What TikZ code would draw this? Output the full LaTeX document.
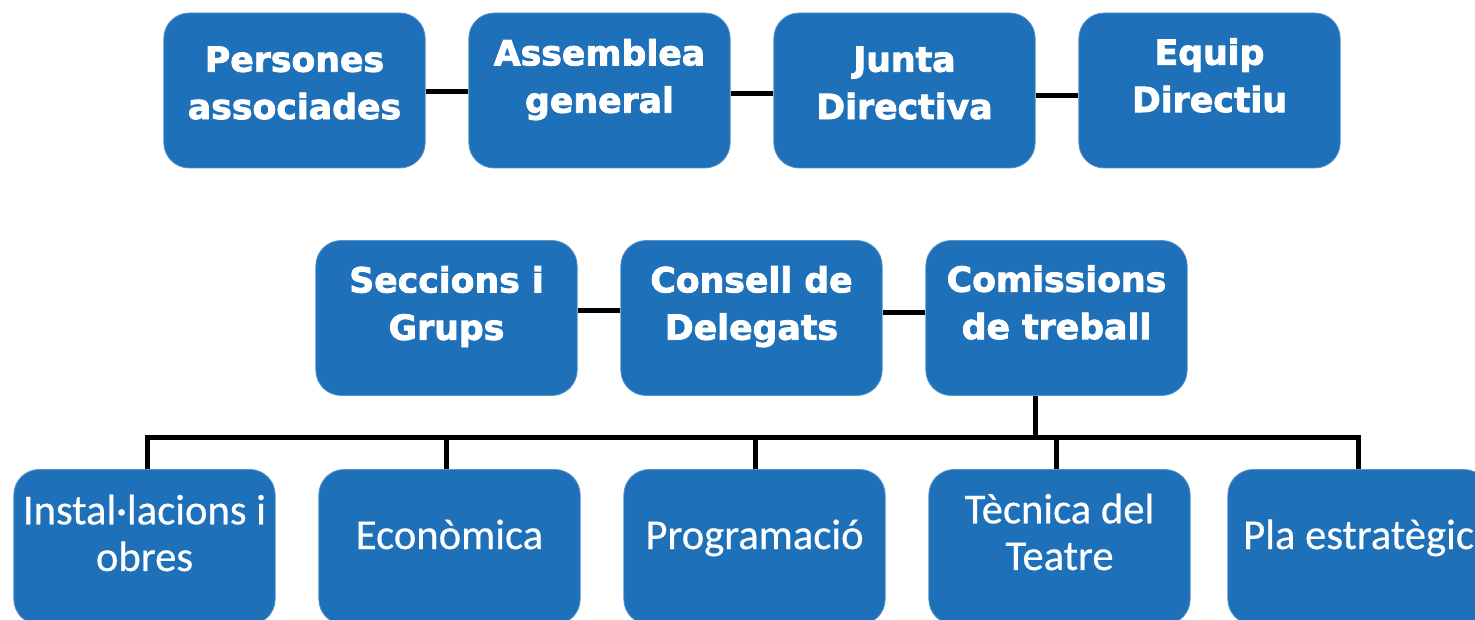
\documentclass[tikz,border=0pt]{standalone}
\usepackage{fontspec}
\newfontfamily\headfont{DejaVu Sans}[BoldFeatures={FakeBold=2.4}]
\newfontfamily\itemfont{Carlito}[FakeBold=0.5]
\definecolor{boxblue}{RGB}{30,112,184}
\begin{document}
\begin{tikzpicture}[x=0.75pt,y=-0.75pt,
  box/.style={fill=boxblue, draw=boxblue!75!white, line width=0.6pt, rounded corners=19pt,
    minimum width=196pt, minimum height=116.25pt, inner sep=0pt},
  head/.style={text=white, font=\headfont\bfseries\fontsize{26}{35.5}\selectfont, align=center, inner sep=0pt},
  item/.style={text=white, font=\itemfont\fontsize{32}{35}\selectfont, align=center, inner sep=0pt},
  conn/.style={line width=3.75pt, draw=black}]
\useasboundingbox (0,0) rectangle (1475,620);
\clip (0,0) rectangle (1475,620);
% top row
\node[box] (pa) at (294.5,90.5) {};
\node[head] (pa-t) at (294.5,83) {Persones\\associades};
\node[box] (ag) at (599.5,90.5) {};
\node[head] (ag-t) at (599.5,79.6) {Assemblea\\general};
\node[box] (jd) at (904.5,90.5) {};
\node[head] (jd-t) at (904.5,83) {Junta\\Directiva};
\node[box] (ed) at (1209.5,90.5) {};
\node[head] (ed-t) at (1209.5,75.5) {Equip\\Directiu};
% middle row
\node[box] (sg) at (446.5,318) {};
\node[head] (sg-t) at (446.5,306.6) {Seccions i\\Grups};
\node[box] (cd) at (751.5,318) {};
\node[head] (cd-t) at (751.5,306.6) {Consell de\\Delegats};
\node[box] (ct) at (1056.5,318) {};
\node[head] (ct-t) at (1056.5,302.5) {Comissions\\de treball};
% bottom row
\node[box] (b1) at (144.5,547) {};
\node[item] (b1-t) at (144.5,533) {Instal·lacions i\\obres};
\node[box] (b2) at (449.5,547) {};
\node[item, anchor=base] (b2-t) at (449.5,549) {Econòmica};
\node[box] (b3) at (754.5,547) {};
\node[item, anchor=base] (b3-t) at (754.5,549) {Programació};
\node[box] (b4) at (1059.5,547) {};
\node[item] (b4-t) at (1059.5,532) {Tècnica del\\Teatre};
\node[box] (b5) at (1358.5,547) {};
\node[item, anchor=base] (b5-t) at (1358.5,549) {Pla estratègic};
% connectors top row
\draw[conn] ([yshift=-1.1pt]pa.east) -- ([yshift=-1.1pt]ag.west);
\draw[conn] ([yshift=-1.9pt]ag.east) -- ([yshift=-1.9pt]jd.west);
\draw[conn] ([yshift=-3.4pt]jd.east) -- ([yshift=-3.4pt]ed.west);
% connectors middle row
\draw[conn] ([yshift=5.25pt]sg.east) -- ([yshift=5.25pt]cd.west);
\draw[conn] ([yshift=3.75pt]cd.east) -- ([yshift=3.75pt]ct.west);
% tree
\coordinate (bus) at (0,437);
\coordinate (ctdrop) at ([xshift=-15.75pt]ct.south);
\draw[conn] (ctdrop) -- (ctdrop |- bus);
\coordinate (d1) at ([xshift=1.9pt]b1.north);
\coordinate (d2) at ([xshift=-2.6pt]b2.north);
\coordinate (d3) at ([xshift=1.1pt]b3.north);
\coordinate (d4) at ([xshift=-2.6pt]b4.north);
\coordinate (d5) at (b5.north);
\draw[conn] (d1) -- (d1 |- bus) -- (d5 |- bus) -- (d5);
\draw[conn] (d2) -- (d2 |- bus);
\draw[conn] (d3) -- (d3 |- bus);
\draw[conn] (d4) -- (d4 |- bus);
\end{tikzpicture}
\end{document}
